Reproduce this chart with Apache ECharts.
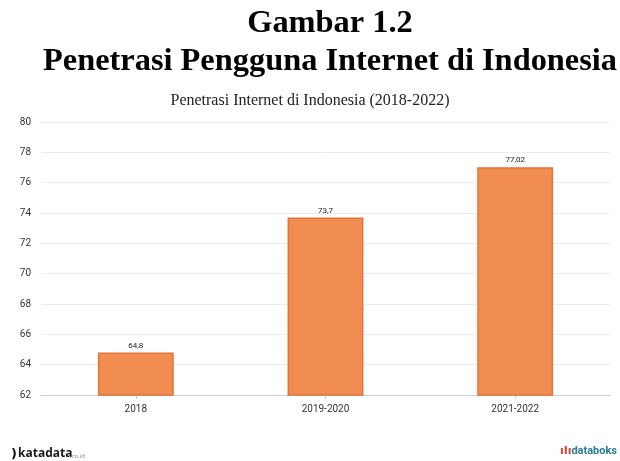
<!DOCTYPE html>
<html>
<head>
<meta charset="utf-8">
<script src="https://cdn.jsdelivr.net/npm/echarts@6/dist/echarts.min.js"></script>
<style>
  html, body { margin: 0; padding: 0; background: #ffffff; }
  #chart { width: 620px; height: 461px; }
</style>
</head>
<body>
<div id="chart"></div>
<script>
// Internet penetration in Indonesia, percent of population
const categories = ['2018', '2019-2020', '2021-2022'];
const penetration = [64.8, 73.7, 77.02];
const valueLabels = ['64,8', '73,7', '77,02'];
const yTicks = { min: 62, max: 80, interval: 2 };

const chart = echarts.init(document.getElementById('chart'), null, { renderer: 'canvas' });

// Heading lines in bold serif
const headingFont = 'bold 32.4px "Liberation Serif"';

chart.setOption({
  backgroundColor: '#ffffff',
  animation: false,
  title: [
    {
      text: 'Penetrasi Internet di Indonesia (2018-2022)',
      left: 'center',
      top: 88,
      textStyle: {
        fontFamily: 'Liberation Serif',
        fontWeight: 'normal',
        fontSize: 16,
        color: '#222222'
      }
    }
  ],
  grid: { left: 41, right: 10, top: 122, bottom: 66, containLabel: false },
  xAxis: {
    type: 'category',
    data: categories,
    axisLine: { show: true, lineStyle: { color: '#cccccc' } },
    axisTick: { show: true, alignWithLabel: true, length: 4, lineStyle: { color: '#cccccc' } },
    axisLabel: { color: '#333333', fontSize: 10, fontFamily: 'Roboto', margin: 9 }
  },
  yAxis: {
    type: 'value',
    min: yTicks.min,
    max: yTicks.max,
    interval: yTicks.interval,
    axisLine: { show: false },
    axisTick: { show: false },
    axisLabel: { color: '#333333', fontSize: 10, fontFamily: 'Roboto', margin: 10 },
    splitLine: { lineStyle: { color: '#ebebeb', width: 1 } }
  },
  series: [
    {
      type: 'bar',
      data: penetration,
      barWidth: '40%',
      itemStyle: { color: '#F28D51', borderColor: '#E0743A', borderWidth: 1.5 },
      label: {
        show: true,
        position: 'top',
        distance: 3,
        fontSize: 8,
        fontFamily: 'Roboto',
        color: '#222222',
        formatter: (p) => valueLabels[p.dataIndex]
      }
    }
  ],
  graphic: [
    {
      type: 'text',
      x: 330,
      y: 24,
      style: {
        text: 'Gambar 1.2',
        font: headingFont,
        fill: '#000000',
        textAlign: 'center',
        textVerticalAlign: 'middle'
      }
    },
    {
      type: 'text',
      x: 330,
      y: 62,
      style: {
        text: 'Penetrasi Pengguna Internet di Indonesia',
        font: headingFont,
        fill: '#000000',
        textAlign: 'center',
        textVerticalAlign: 'middle'
      }
    },
    {
      type: 'text',
      left: 11,
      top: 448,
      style: { text: ')', font: 'bold 13px "DejaVu Sans"', fill: '#111111' }
    },
    {
      type: 'text',
      left: 18,
      top: 448,
      style: { text: 'katadata', font: 'bold 12px "Open Sans"', fill: '#1a1a1a' }
    },
    {
      type: 'text',
      left: 70,
      top: 453,
      style: { text: '.co.id', font: '6px "Open Sans"', fill: '#888888' }
    },
    {
      type: 'text',
      left: 560,
      top: 446,
      style: { text: 'ıIı', font: 'bold 11px "DejaVu Sans"', fill: '#d2483a' }
    },
    {
      type: 'text',
      right: 3,
      top: 446,
      style: { text: 'databoks', font: 'bold 11px "Roboto"', fill: '#2b7a8c' }
    }
  ]
});
</script>
</body>
</html>
